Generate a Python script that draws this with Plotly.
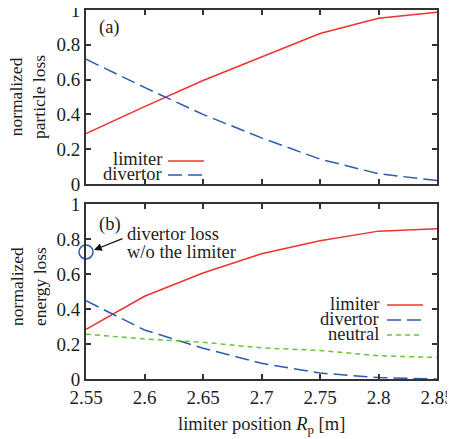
import plotly.graph_objects as go

# ---- data ----
rp = [2.55, 2.60, 2.65, 2.70, 2.75, 2.80, 2.85]
particle_limiter = [0.29, 0.445, 0.595, 0.73, 0.865, 0.952, 0.987]
particle_divertor = [0.717, 0.555, 0.40, 0.265, 0.143, 0.059, 0.02]
energy_limiter = [0.284, 0.473, 0.606, 0.716, 0.79, 0.845, 0.858]
energy_divertor = [0.447, 0.28, 0.176, 0.09, 0.034, 0.008, 0.0]
energy_neutral = [0.256, 0.229, 0.21, 0.178, 0.163, 0.133, 0.123]
no_limiter_x = [2.55]
no_limiter_divertor = [0.726]

xticks = [2.55, 2.60, 2.65, 2.70, 2.75, 2.80, 2.85]
xticklabels = ["2.55", "2.6", "2.65", "2.7", "2.75", "2.8", "2.85"]
yticks = [0, 0.2, 0.4, 0.6, 0.8, 1.0]
yticklabels = ["0", "0.2", "0.4", "0.6", "0.8", "1"]

RED = "#f03232"
BLUE = "#2a5cb0"
GREEN = "#66c633"
FONT = "Liberation Serif, Times New Roman, serif"
TXT = "#1e1e1e"

OFF = 8  # page body margin
W, H = 455 - OFF, 439 - OFF
# target pixel positions measured in the 455x439 screenshot
PL, PR, PT, PB = 86, 437, 10, 379
L, R, T, B = PL - OFF, W - (PR - OFF), PT - OFF, H - (PB - OFF)
PW, PH = PR - PL, PB - PT


def px(x):
    return (x - PL) / PW


def py(y):
    return (PB - y) / PH


fig = go.Figure()

# top panel
fig.add_trace(go.Scatter(x=rp, y=particle_limiter, mode="lines",
                         line=dict(color=RED, width=1.5), xaxis="x", yaxis="y"))
fig.add_trace(go.Scatter(x=rp, y=particle_divertor, mode="lines",
                         line=dict(color=BLUE, width=1.5, dash="14px,6px"), xaxis="x", yaxis="y"))
# bottom panel
fig.add_trace(go.Scatter(x=rp, y=energy_limiter, mode="lines",
                         line=dict(color=RED, width=1.5), xaxis="x2", yaxis="y2"))
fig.add_trace(go.Scatter(x=rp, y=energy_divertor, mode="lines",
                         line=dict(color=BLUE, width=1.5, dash="14px,6px"), xaxis="x2", yaxis="y2"))
fig.add_trace(go.Scatter(x=rp, y=energy_neutral, mode="lines",
                         line=dict(color=GREEN, width=1.5, dash="5px,4px"), xaxis="x2", yaxis="y2"))
fig.add_trace(go.Scatter(x=no_limiter_x, y=no_limiter_divertor, mode="markers",
                         marker=dict(symbol="circle-open", size=14, color=BLUE, line=dict(width=1.5, color=BLUE)),
                         cliponaxis=False, xaxis="x2", yaxis="y2"))

top_dom = [py(184), 1.0]
bot_dom = [0.0, py(204)]

axis_common = dict(
    showline=True, linecolor="#333333", linewidth=2, mirror="allticks",
    ticks="inside", ticklen=5, tickwidth=1.5, tickcolor="#333333",
    showgrid=False, zeroline=False, automargin=False, ticklabeloverflow="allow",
    tickfont=dict(family=FONT, size=19, color=TXT),
)

fig.update_layout(
    template="none",
    width=W, height=H,
    margin=dict(l=L, r=R, t=T, b=B, autoexpand=False),
    paper_bgcolor="white", plot_bgcolor="white",
    showlegend=False,
    font=dict(family=FONT, color=TXT),
    xaxis=dict(range=[2.55, 2.85], tickvals=xticks, ticktext=xticklabels, showticklabels=False,
               anchor="y", domain=[0, 1], **axis_common),
    yaxis=dict(range=[0, 1], tickvals=yticks, ticktext=yticklabels, domain=top_dom,
               anchor="x", **axis_common),
    xaxis2=dict(range=[2.55, 2.85], tickvals=xticks, ticktext=xticklabels,
                anchor="y2", domain=[0, 1], **axis_common),
    yaxis2=dict(range=[0, 1], tickvals=yticks, ticktext=yticklabels, domain=bot_dom,
                anchor="x2", **axis_common),
)

ann = []


def text(x, y, s, xanchor="left", size=18.5, angle=0):
    ann.append(dict(xref="paper", yref="paper", x=px(x), y=py(y), text=s, showarrow=False,
                    xanchor=xanchor, yanchor="middle", textangle=angle,
                    font=dict(family=FONT, size=size, color=TXT)))


text(97, 27, "(a)")
text(97, 224, "(b)")
text(125, 234, "divertor loss")
text(125, 252, "w/o the limiter")

# legends
text(164, 159, "limiter", "right")
text(164, 174, "divertor", "right")
text(381, 304, "limiter", "right")
text(381, 319, "divertor", "right")
text(381, 334, "neutral", "right")

# axis titles
text(28, 97, "normalized<br>particle loss", "center", 17.5, -90)
text(28, 287, "normalized<br>energy loss", "center", 17.5, -90)
text(261.5, 425, "limiter position <i>R</i><sub>p</sub> [m]", "center", 18.5)

# arrow to circle
ann.append(dict(xref="paper", yref="paper", x=px(94), y=py(250), ax=30, ay=-12,
                text="", showarrow=True,
                arrowhead=2, arrowsize=1.3, arrowwidth=1.2, arrowcolor="#111111"))

fig.update_layout(annotations=ann)

shapes = []


def legline(x0, x1, y, color, dash):
    shapes.append(dict(type="line", xref="paper", yref="paper", x0=px(x0), x1=px(x1),
                       y0=py(y), y1=py(y), line=dict(color=color, width=1.5, dash=dash)))


legline(168, 204, 161, RED, "solid")
legline(168, 204, 175, BLUE, "14px,6px")
legline(387, 423, 305, RED, "solid")
legline(387, 423, 320, BLUE, "14px,6px")
legline(387, 423, 335, GREEN, "5px,4px")
fig.update_layout(shapes=shapes)

fig.write_html("out.html")
